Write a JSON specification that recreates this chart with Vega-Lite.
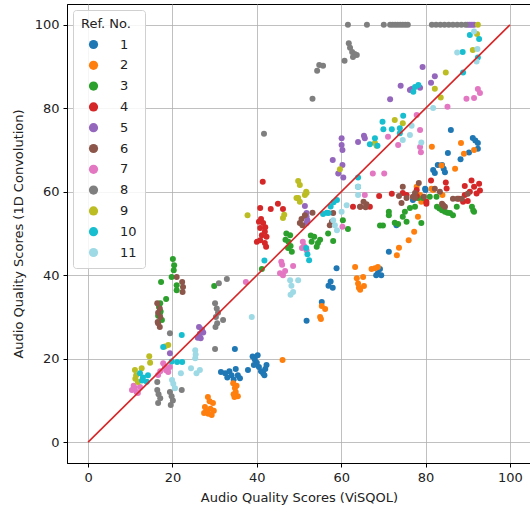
{
"$schema": "https://vega.github.io/schema/vega-lite/v6.json",
"width": 464, "height": 459,
"autosize": {"type": "none"},
"padding": {"left": 67, "top": 4, "right": 0, "bottom": 52},
"background": "white",
"config": {
 "font": "DejaVu Sans",
 "view": {"stroke": "black", "strokeWidth": 1},
 "axis": {"grid": true, "gridColor": "#b0b0b0", "gridWidth": 0.8, "domainColor": "black", "tickColor": "black", "tickSize": 4, "labelFontSize": 13, "labelColor": "#222222", "titleFontSize": 13, "titleFontWeight": "normal", "titleColor": "#222222", "labelPadding": 4},
 "legend": {"orient": "top-left", "offset": 6, "padding": 8, "strokeColor": "#d0d0d0", "fillColor": "rgba(255,255,255,0.85)", "cornerRadius": 3, "titleFontSize": 13, "titleFontWeight": "normal", "titleColor": "#222222", "labelFontSize": 13, "labelColor": "#222222", "symbolType": "circle", "symbolSize": 85, "rowPadding": 6.8, "titlePadding": 7, "labelOffset": 20, "symbolOffset": 6, "symbolStrokeWidth": 0}
},
"layer": [
 {
  "data": {"values": [
{"r":1,"x":32.5,"y":16.5},{"r":1,"x":33,"y":15.5},{"r":1,"x":33.5,"y":17},{"r":1,"x":34,"y":16},{"r":1,"x":34.5,"y":15},{"r":1,"x":35,"y":17.5},{"r":1,"x":35.5,"y":16},{"r":1,"x":36,"y":15.3},{"r":1,"x":34.8,"y":22.3},{"r":1,"x":37.9,"y":17.3},{"r":1,"x":31.5,"y":16.8},
{"r":1,"x":39,"y":20.5},{"r":1,"x":39.5,"y":19.8},{"r":1,"x":40,"y":19},{"r":1,"x":40.5,"y":18},{"r":1,"x":41,"y":17},{"r":1,"x":41.5,"y":16.5},{"r":1,"x":42,"y":17.5},{"r":1,"x":42.3,"y":18.5},{"r":1,"x":40.2,"y":20.8},{"r":1,"x":39.3,"y":18.5},{"r":1,"x":41.8,"y":16},
{"r":1,"x":58.9,"y":41.7},{"r":1,"x":57,"y":37.5},{"r":1,"x":57.5,"y":38.5},{"r":1,"x":58,"y":37},{"r":1,"x":51.8,"y":29.1},{"r":1,"x":55.4,"y":33.6},{"r":1,"x":68.7,"y":40.5},{"r":1,"x":69.2,"y":41.5},{"r":1,"x":68.3,"y":40},{"r":1,"x":69.5,"y":40},{"r":1,"x":71.3,"y":45.6},{"r":1,"x":73.1,"y":52},{"r":1,"x":77,"y":58},{"r":1,"x":79.9,"y":60.7},{"r":1,"x":80,"y":60.4},
{"r":1,"x":86,"y":74.8},{"r":1,"x":91.2,"y":72.9},{"r":1,"x":91.8,"y":72.3},{"r":1,"x":92.4,"y":71.7},{"r":1,"x":92.4,"y":70.3},{"r":1,"x":90.3,"y":69.4},{"r":1,"x":88.3,"y":67.8},{"r":1,"x":85.3,"y":69.3},{"r":1,"x":82.9,"y":66.4},{"r":1,"x":81.8,"y":65.2},{"r":1,"x":82.2,"y":64.5},{"r":1,"x":83.9,"y":66.4},{"r":1,"x":84.3,"y":65.5},{"r":1,"x":84.6,"y":64.7},
{"r":2,"x":28.4,"y":10.8},{"r":2,"x":29.6,"y":9.4},{"r":2,"x":27.7,"y":8.4},{"r":2,"x":28,"y":7.5},{"r":2,"x":28.5,"y":6.8},{"r":2,"x":29.3,"y":6.5},{"r":2,"x":27.5,"y":7},{"r":2,"x":29,"y":8},{"r":2,"x":28.8,"y":9.8},{"r":2,"x":29.8,"y":7.5},
{"r":2,"x":34.4,"y":14.1},{"r":2,"x":34.8,"y":13},{"r":2,"x":35,"y":12},{"r":2,"x":35.5,"y":11},{"r":2,"x":34.5,"y":11.5},{"r":2,"x":35.2,"y":13.5},{"r":2,"x":34.7,"y":10.8},
{"r":2,"x":46.1,"y":19.7},{"r":2,"x":55.4,"y":32.6},{"r":2,"x":56.2,"y":31.9},{"r":2,"x":55,"y":30},{"r":2,"x":55.2,"y":29.5},
{"r":2,"x":63.3,"y":42},{"r":2,"x":63.7,"y":39.3},{"r":2,"x":64,"y":38},{"r":2,"x":64.2,"y":37},{"r":2,"x":64.5,"y":36.5},{"r":2,"x":65.2,"y":39.6},{"r":2,"x":65.4,"y":37.4},{"r":2,"x":67.2,"y":41.5},{"r":2,"x":68,"y":41.7},{"r":2,"x":68.7,"y":42},
{"r":2,"x":73.2,"y":44.8},{"r":2,"x":73.7,"y":46.6},{"r":2,"x":76,"y":48.4},{"r":2,"x":77.3,"y":50.4},{"r":2,"x":78.2,"y":54},{"r":2,"x":77.9,"y":61.2},{"r":2,"x":79,"y":57.6},{"r":2,"x":78.7,"y":59.2},{"r":2,"x":81.4,"y":60.7},{"r":2,"x":81.8,"y":60.4},{"r":2,"x":84,"y":59.2},
{"r":2,"x":81.5,"y":70.8},{"r":2,"x":88.4,"y":71.7},{"r":2,"x":89.1,"y":69.1},{"r":2,"x":91.5,"y":70},{"r":2,"x":87,"y":65.5},{"r":2,"x":83.8,"y":66.3},
{"r":3,"x":20.1,"y":43.9},{"r":3,"x":20.4,"y":42.4},{"r":3,"x":20.3,"y":41.2},{"r":3,"x":19.8,"y":39.6},{"r":3,"x":21,"y":37.6},{"r":3,"x":21,"y":36.4},{"r":3,"x":17.3,"y":38.4},{"r":3,"x":29.9,"y":37.4},{"r":3,"x":18.5,"y":34.3},{"r":3,"x":17.1,"y":33.3},{"r":3,"x":16.8,"y":32.4},{"r":3,"x":17.2,"y":31.3},{"r":3,"x":16.6,"y":30.3},{"r":3,"x":17.5,"y":29.3},{"r":3,"x":17,"y":30.8},
{"r":3,"x":41.2,"y":41.5},
{"r":3,"x":47,"y":50},{"r":3,"x":47.4,"y":46.5},{"r":3,"x":47.9,"y":49.6},{"r":3,"x":48.3,"y":45.6},{"r":3,"x":47.5,"y":48},{"r":3,"x":48,"y":47},{"r":3,"x":46.8,"y":48.5},
{"r":3,"x":53.6,"y":49.2},{"r":3,"x":54.5,"y":47.7},{"r":3,"x":54.2,"y":46.8},{"r":3,"x":53,"y":48},{"r":3,"x":52.8,"y":49.5},{"r":3,"x":55,"y":48.5},
{"r":3,"x":56.9,"y":50},{"r":3,"x":58.1,"y":48.2},{"r":3,"x":60.4,"y":53.2},{"r":3,"x":61.6,"y":51.1},
{"r":3,"x":69.2,"y":51.9},{"r":3,"x":69.9,"y":51.9},{"r":3,"x":71.3,"y":54.4},{"r":3,"x":71.3,"y":55.2},{"r":3,"x":72.7,"y":52.6},{"r":3,"x":73.5,"y":52.3},
{"r":3,"x":75.1,"y":55.2},{"r":3,"x":74.6,"y":54},{"r":3,"x":75.5,"y":52.8},{"r":3,"x":76.3,"y":56.1},{"r":3,"x":77.5,"y":56.4},{"r":3,"x":79,"y":52.5},{"r":3,"x":78.2,"y":58.5},{"r":3,"x":79.4,"y":58.5},{"r":3,"x":81,"y":58.8},{"r":3,"x":82.6,"y":58.8},
{"r":3,"x":82.7,"y":56.4},{"r":3,"x":83.3,"y":56},{"r":3,"x":83.9,"y":55.6},{"r":3,"x":84.6,"y":55.2},{"r":3,"x":85.2,"y":55},{"r":3,"x":85.8,"y":54.9},{"r":3,"x":86.5,"y":54.4},{"r":3,"x":87.4,"y":56.4},{"r":3,"x":91,"y":56.4},{"r":3,"x":91.3,"y":55.5},{"r":3,"x":91.5,"y":55.2},
{"r":4,"x":41.4,"y":62.4},{"r":4,"x":40.8,"y":56.1},{"r":4,"x":43.3,"y":55.9},{"r":4,"x":45,"y":57.1},{"r":4,"x":46.2,"y":55.9},
{"r":4,"x":40.5,"y":52.8},{"r":4,"x":41.5,"y":52.5},{"r":4,"x":40.8,"y":51.3},{"r":4,"x":41.9,"y":50.4},{"r":4,"x":41.2,"y":49.6},{"r":4,"x":42.3,"y":49.2},{"r":4,"x":40,"y":48},{"r":4,"x":41.9,"y":47.7},{"r":4,"x":42.2,"y":46.8},{"r":4,"x":40.8,"y":48.4},{"r":4,"x":41,"y":53.5},{"r":4,"x":42,"y":51.5},
{"r":4,"x":62.8,"y":56.4},{"r":4,"x":64.5,"y":56.4},{"r":4,"x":66.8,"y":56.4},{"r":4,"x":69,"y":59},{"r":4,"x":72,"y":59.5},{"r":4,"x":75.5,"y":59.2},{"r":4,"x":80.2,"y":57.6},{"r":4,"x":77.9,"y":59},
{"r":4,"x":81.3,"y":62.7},{"r":4,"x":80.2,"y":57.1},{"r":4,"x":84.8,"y":62.2},{"r":4,"x":85,"y":60.8},{"r":4,"x":89.3,"y":61.4},{"r":4,"x":90.9,"y":62.7},{"r":4,"x":91.5,"y":61.2},{"r":4,"x":92.7,"y":61.9},{"r":4,"x":92.9,"y":60.3},{"r":4,"x":92.1,"y":59.6},{"r":4,"x":90.5,"y":60},{"r":4,"x":89.3,"y":59.2},{"r":4,"x":88.9,"y":57.6},{"r":4,"x":90,"y":57.8},{"r":4,"x":87.9,"y":58.3},{"r":4,"x":77.9,"y":60.4},{"r":4,"x":74.6,"y":59.7},
{"r":5,"x":26,"y":25},{"r":5,"x":26.5,"y":26},{"r":5,"x":27,"y":27},{"r":5,"x":26.3,"y":27.6},{"r":5,"x":27.3,"y":26.3},{"r":5,"x":26.7,"y":24.9},{"r":5,"x":19.4,"y":21.3},
{"r":5,"x":51.8,"y":52.5},{"r":5,"x":51.8,"y":54},{"r":5,"x":51.4,"y":56.6},{"r":5,"x":51.8,"y":54.9},{"r":5,"x":52,"y":53.2},
{"r":5,"x":71.6,"y":82.2},{"r":5,"x":60.1,"y":72.8},{"r":5,"x":60.1,"y":71.2},{"r":5,"x":60.3,"y":70},{"r":5,"x":64,"y":71.9},{"r":5,"x":65.4,"y":73.4},{"r":5,"x":65.6,"y":72.8},{"r":5,"x":58,"y":67.6},{"r":5,"x":60.3,"y":66.4},{"r":5,"x":59.3,"y":64.4},{"r":5,"x":60.5,"y":63.4},
{"r":5,"x":74.1,"y":85.4},{"r":5,"x":76.3,"y":84.4},{"r":5,"x":79.3,"y":89.9},{"r":5,"x":82.2,"y":87.7},{"r":5,"x":81.3,"y":86.1},{"r":5,"x":78.7,"y":84.9},{"r":5,"x":76.7,"y":84.6},
{"r":5,"x":90,"y":100},{"r":5,"x":90.5,"y":100},{"r":5,"x":91,"y":100},{"r":5,"x":91.5,"y":100},
{"r":6,"x":21,"y":39.6},{"r":6,"x":22.3,"y":38.4},{"r":6,"x":22.5,"y":37.2},{"r":6,"x":22.4,"y":36},{"r":6,"x":16.4,"y":33.3},{"r":6,"x":17,"y":32},{"r":6,"x":16.6,"y":31},{"r":6,"x":17.1,"y":30},{"r":6,"x":16.5,"y":28.8},{"r":6,"x":17,"y":27.6},{"r":6,"x":16.6,"y":28.5},
{"r":6,"x":50.2,"y":52.5},{"r":6,"x":50.6,"y":53.5},{"r":6,"x":51.4,"y":54.4},{"r":6,"x":50.8,"y":52},{"r":6,"x":53.2,"y":55},{"r":6,"x":57.3,"y":52},{"r":6,"x":57.8,"y":52.8},{"r":6,"x":58.1,"y":54.9},
{"r":6,"x":64.5,"y":56.4},{"r":6,"x":65.3,"y":57.6},{"r":6,"x":66,"y":57},{"r":6,"x":65.8,"y":56.3},
{"r":6,"x":74.6,"y":61.2},{"r":6,"x":73.7,"y":59},{"r":6,"x":75.5,"y":58.5},{"r":6,"x":77.5,"y":58.5},{"r":6,"x":78.4,"y":62.1},{"r":6,"x":79.6,"y":58.8},{"r":6,"x":74.3,"y":57.3},{"r":6,"x":77,"y":58.8},{"r":6,"x":77.5,"y":59.7},{"r":6,"x":82.2,"y":60.7},{"r":6,"x":83.4,"y":60},{"r":6,"x":83.9,"y":57.1},{"r":6,"x":84.6,"y":56.4},{"r":6,"x":84.2,"y":56.8},{"r":6,"x":86.5,"y":58.3},{"r":6,"x":87.5,"y":58.3},{"r":6,"x":88.6,"y":58.3},{"r":6,"x":90,"y":59.5},
{"r":7,"x":10.4,"y":12.5},{"r":7,"x":11,"y":13},{"r":7,"x":11.5,"y":12},{"r":7,"x":12.3,"y":13.2},{"r":7,"x":11.8,"y":11.8},{"r":7,"x":10.8,"y":13.5},
{"r":7,"x":17.1,"y":17},{"r":7,"x":18.2,"y":18},{"r":7,"x":19,"y":16.8},{"r":7,"x":16.6,"y":16.1},{"r":7,"x":17.8,"y":18.9},{"r":7,"x":19.4,"y":18},{"r":7,"x":18.5,"y":17.2},
{"r":7,"x":37.4,"y":38.4},
{"r":7,"x":45.5,"y":40.5},{"r":7,"x":46,"y":42.5},{"r":7,"x":46.7,"y":41},{"r":7,"x":45.8,"y":43.2},{"r":7,"x":46.2,"y":40},{"r":7,"x":48.6,"y":42.2},
{"r":7,"x":50.9,"y":48},{"r":7,"x":51.8,"y":46},{"r":7,"x":51.2,"y":47},{"r":7,"x":50.7,"y":46.5},{"r":7,"x":60.3,"y":51.6},{"r":7,"x":65.6,"y":59.2},
{"r":7,"x":71.1,"y":73.2},{"r":7,"x":73.5,"y":71.2},{"r":7,"x":78.7,"y":74.8},{"r":7,"x":78.7,"y":70.7},{"r":7,"x":78.9,"y":69.5},{"r":7,"x":67.5,"y":64.4},{"r":7,"x":70.2,"y":64.4},
{"r":7,"x":92.4,"y":84.6},{"r":7,"x":92.9,"y":83.7},{"r":7,"x":91.5,"y":82.5},{"r":7,"x":89.7,"y":82.3},{"r":7,"x":85.2,"y":80.4},{"r":7,"x":77.9,"y":78.4},
{"r":8,"x":16.4,"y":12.5},{"r":8,"x":16.7,"y":11.5},{"r":8,"x":17.1,"y":10.5},{"r":8,"x":16.6,"y":9.4},{"r":8,"x":16.4,"y":14.4},{"r":8,"x":19.4,"y":12},{"r":8,"x":19.8,"y":11},{"r":8,"x":20.1,"y":10},{"r":8,"x":19.6,"y":8.9},{"r":8,"x":19.4,"y":26.1},{"r":8,"x":22.2,"y":12.5},{"r":8,"x":30.1,"y":22.3},
{"r":8,"x":30.1,"y":33.3},{"r":8,"x":30.5,"y":32},{"r":8,"x":30.8,"y":31},{"r":8,"x":30.3,"y":30},{"r":8,"x":30.6,"y":28.5},{"r":8,"x":30.2,"y":27.6},{"r":8,"x":31,"y":38.1},{"r":8,"x":32.9,"y":39.1},{"r":8,"x":32,"y":29.3},
{"r":8,"x":41.7,"y":73.9},{"r":8,"x":53.2,"y":82.3},{"r":8,"x":54.3,"y":89},{"r":8,"x":54.8,"y":90.4},{"r":8,"x":55.7,"y":90.2},{"r":8,"x":60.8,"y":91.4},{"r":8,"x":61.8,"y":95.6},{"r":8,"x":62.1,"y":94.5},{"r":8,"x":62.6,"y":93.5},{"r":8,"x":63.2,"y":93},{"r":8,"x":63.7,"y":92.8},{"r":8,"x":62.8,"y":92.3},
{"r":8,"x":61.6,"y":100},{"r":8,"x":66.1,"y":100},{"r":8,"x":70.1,"y":100},{"r":8,"x":71.6,"y":100},{"r":8,"x":72.2,"y":100},{"r":8,"x":72.8,"y":100},{"r":8,"x":73.4,"y":100},{"r":8,"x":74,"y":100},{"r":8,"x":74.6,"y":100},{"r":8,"x":75.2,"y":100},{"r":8,"x":75.8,"y":100},{"r":8,"x":81.5,"y":100},{"r":8,"x":82.5,"y":100},{"r":8,"x":83.5,"y":100},{"r":8,"x":84.5,"y":100},{"r":8,"x":85.5,"y":100},{"r":8,"x":86.5,"y":100},{"r":8,"x":87.5,"y":100},{"r":8,"x":88.5,"y":100},{"r":8,"x":89.5,"y":100},
{"r":9,"x":11.1,"y":17.3},{"r":9,"x":11.4,"y":16},{"r":9,"x":11.8,"y":14.4},{"r":9,"x":11.2,"y":15.2},{"r":9,"x":12.7,"y":17.7},{"r":9,"x":14.5,"y":20.6},{"r":9,"x":14.7,"y":19},{"r":9,"x":18.2,"y":22.9},{"r":9,"x":19,"y":23.3},
{"r":9,"x":37.8,"y":54.4},
{"r":9,"x":49.8,"y":62.6},{"r":9,"x":50.2,"y":61.6},{"r":9,"x":51.7,"y":60},{"r":9,"x":51.4,"y":59.2},{"r":9,"x":49.8,"y":58.5},{"r":9,"x":50.2,"y":57.6},{"r":9,"x":49.4,"y":58.5},{"r":9,"x":51.8,"y":59.7},{"r":9,"x":46.2,"y":53.7},{"r":9,"x":46.5,"y":54.5},
{"r":9,"x":72.7,"y":77.2},{"r":9,"x":74.6,"y":76.4},{"r":9,"x":68,"y":71.7},{"r":9,"x":68.4,"y":71},{"r":9,"x":59.7,"y":65.4},
{"r":9,"x":92.4,"y":100},{"r":9,"x":92.2,"y":97.8},{"r":9,"x":91.2,"y":94},{"r":9,"x":84.8,"y":88.6},{"r":9,"x":82.2,"y":84.7},{"r":9,"x":83.6,"y":82.6},
{"r":10,"x":12.3,"y":16.5},{"r":10,"x":13,"y":15.5},{"r":10,"x":13.9,"y":14.5},{"r":10,"x":14.2,"y":16},{"r":10,"x":12.8,"y":14.8},{"r":10,"x":17.8,"y":22.8},{"r":10,"x":22.2,"y":25.7},{"r":10,"x":21.1,"y":19.2},{"r":10,"x":22.3,"y":19.2},{"r":10,"x":19.8,"y":19.3},
{"r":10,"x":41.8,"y":43.5},
{"r":10,"x":51.7,"y":46.5},{"r":10,"x":52,"y":45},{"r":10,"x":52.4,"y":43.6},
{"r":10,"x":56.6,"y":55},{"r":10,"x":57.5,"y":56.5},{"r":10,"x":58.2,"y":57.5},{"r":10,"x":59,"y":58},{"r":10,"x":57,"y":54.9},{"r":10,"x":55.7,"y":54.7},{"r":10,"x":64,"y":61.2},
{"r":10,"x":69.8,"y":76.8},{"r":10,"x":70,"y":75},{"r":10,"x":72,"y":75},{"r":10,"x":73.9,"y":75.2},{"r":10,"x":74.7,"y":78.2},{"r":10,"x":68,"y":72.8},{"r":10,"x":66.8,"y":71.4},{"r":10,"x":68.6,"y":71},{"r":10,"x":64,"y":63.4},{"r":10,"x":73.9,"y":74},
{"r":10,"x":90.5,"y":97.6},{"r":10,"x":92.7,"y":96.6},{"r":10,"x":88.8,"y":93.5},{"r":10,"x":88.9,"y":88.6},{"r":10,"x":92.4,"y":92.2},{"r":10,"x":77.5,"y":85.1},{"r":10,"x":77.1,"y":84},{"r":10,"x":78.3,"y":85.6},
{"r":11,"x":19.9,"y":14.9},{"r":11,"x":20.2,"y":14},{"r":11,"x":20.6,"y":12.9},{"r":11,"x":22,"y":16.5},{"r":11,"x":24.4,"y":17.7},{"r":11,"x":25.4,"y":20.1},{"r":11,"x":25.5,"y":21},{"r":11,"x":25.4,"y":22},{"r":11,"x":25.7,"y":16.5},{"r":11,"x":26.5,"y":17.3},
{"r":11,"x":38.8,"y":30},
{"r":11,"x":47.9,"y":38.8},{"r":11,"x":48.2,"y":37.5},{"r":11,"x":48.6,"y":36},{"r":11,"x":48,"y":35.3},{"r":11,"x":49.8,"y":38.8},
{"r":11,"x":58.1,"y":53.2},{"r":11,"x":58.5,"y":52},{"r":11,"x":59,"y":50.8},{"r":11,"x":60.1,"y":55.2},{"r":11,"x":61.3,"y":56.8},{"r":11,"x":64,"y":59.2},
{"r":11,"x":79,"y":71.8},{"r":11,"x":76.3,"y":73.6},{"r":11,"x":74.6,"y":72.4},{"r":11,"x":76.7,"y":75.8},{"r":11,"x":64,"y":61.2},
{"r":11,"x":91.5,"y":98.4},{"r":11,"x":87.5,"y":93.4},{"r":11,"x":92.3,"y":94.2},{"r":11,"x":92.1,"y":91.2},{"r":11,"x":81.8,"y":80.1}
  ]},
  "mark": {"type": "circle", "size": 36, "opacity": 1},
  "encoding": {
   "x": {"field": "x", "type": "quantitative", "scale": {"domain": [-5, 105], "nice": false, "zero": false}, "axis": {"values": [0, 20, 40, 60, 80, 100], "title": "Audio Quality Scores (ViSQOL)", "titlePadding": 7}},
   "y": {"field": "y", "type": "quantitative", "scale": {"domain": [-5, 105], "nice": false, "zero": false}, "axis": {"values": [0, 20, 40, 60, 80, 100], "title": "Audio Quality Scores (1D Convolution)", "titlePadding": 9}},
   "color": {"field": "r", "type": "ordinal", "title": "Ref. No.", "scale": {"domain": [1,2,3,4,5,6,7,8,9,10,11], "range": ["#1f77b4","#ff7f0e","#2ca02c","#d62728","#9467bd","#8c564b","#e377c2","#7f7f7f","#bcbd22","#17becf","#9edae5"]}}
  }
 },
 {
  "data": {"values": [{"a": 0}, {"a": 100}]},
  "mark": {"type": "line", "color": "#d62728", "strokeWidth": 1.6},
  "encoding": {"x": {"field": "a", "type": "quantitative"}, "y": {"field": "a", "type": "quantitative"}}
 }
]
}
